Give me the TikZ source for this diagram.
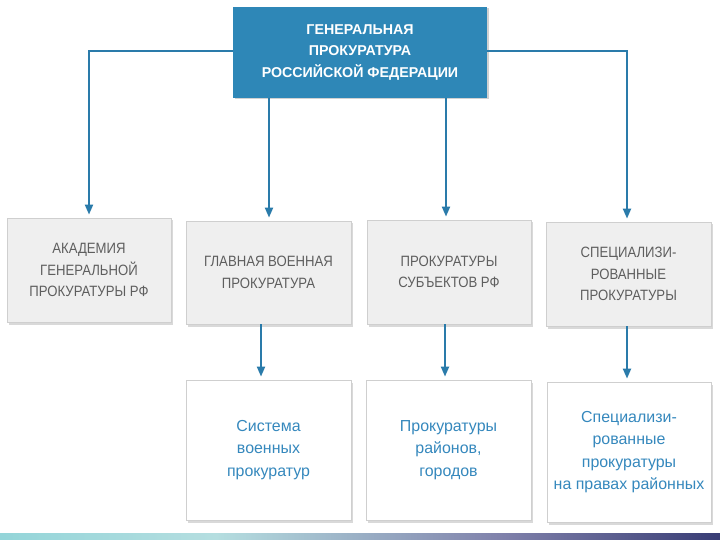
\documentclass[tikz,border=0pt]{standalone}
\usepackage{fontspec}
\setmainfont{Liberation Sans}
\newfontfamily\condfont[FakeStretch=0.88]{Liberation Sans}
\usetikzlibrary{arrows.meta,shadows}
\definecolor{topblue}{HTML}{2E87B7}
\definecolor{lineblue}{HTML}{2A7BAA}
\definecolor{greyfill}{HTML}{EFEFEF}
\definecolor{greyline}{HTML}{CFCFCF}
\definecolor{greytext}{HTML}{5E5E5E}
\definecolor{bluetext}{HTML}{3588BD}
\definecolor{barA}{HTML}{5CC6CD}
\definecolor{barB}{HTML}{B5DEE0}
\definecolor{barC}{HTML}{7F80AA}
\definecolor{barD}{HTML}{2A2F6A}
\definecolor{barE}{HTML}{1E2358}
\pgfdeclarehorizontalshading{barshade}{100bp}{color(0bp)=(barA); color(40bp)=(barB); color(60bp)=(barC); color(78bp)=(barD); color(100bp)=(barE)}
\tikzset{
  topbox/.style={rectangle, fill=topblue, draw=none, text=white, align=center,
    font=\fontsize{14.3}{21.5}\selectfont\bfseries, inner sep=0pt,
    drop shadow={shadow xshift=1.5bp, shadow yshift=-1.5bp, fill=black, opacity=0.18}},
  greybox/.style={rectangle, fill=greyfill, draw=greyline, line width=0.8bp, text=greytext, align=center,
    font=\condfont\fontsize{15}{21.5}\selectfont, inner sep=0pt,
    drop shadow={shadow xshift=2bp, shadow yshift=-2.5bp, fill=black, opacity=0.15}},
  whitebox/.style={rectangle, fill=white, draw=greyline, line width=0.8bp, text=bluetext, align=center,
    font=\fontsize{16}{22.5}\selectfont, inner sep=0pt,
    drop shadow={shadow xshift=2bp, shadow yshift=-2.5bp, fill=black, opacity=0.15}},
  conn/.style={draw=lineblue, line width=2bp, -{Triangle[width=8bp,length=10bp]}, shorten >=3bp}
}
\begin{document}
\begin{tikzpicture}[x=1bp,y=-1bp]
\useasboundingbox (0,0) rectangle (720,540);
\fill[white] (0,0) rectangle (720,540);
% top
\node[topbox, minimum width=254bp, minimum height=91bp] (top) at (360,52.5)
  {ГЕНЕРАЛЬНАЯ\\ПРОКУРАТУРА\\РОССИЙСКОЙ ФЕДЕРАЦИИ};
% row 1
\node[greybox, minimum width=164bp, minimum height=104bp] (b1) at (89,270)
  {АКАДЕМИЯ\\ГЕНЕРАЛЬНОЙ\\ПРОКУРАТУРЫ РФ};
\node[greybox, minimum width=165bp, minimum height=103bp] (b2) at (268.5,272.5)
  {ГЛАВНАЯ ВОЕННАЯ\\ПРОКУРАТУРА};
\node[greybox, minimum width=164bp, minimum height=104bp] (b3) at (449,272)
  {ПРОКУРАТУРЫ\\СУБЪЕКТОВ РФ};
\node[greybox, minimum width=165bp, minimum height=104bp] (b4) at (628.5,274)
  {СПЕЦИАЛИЗИ-\\РОВАННЫЕ\\ПРОКУРАТУРЫ};
% row 2
\node[whitebox, minimum width=165bp, minimum height=140bp] (b5) at (268.5,450)
  {Система\\военных\\прокуратур};
\node[whitebox, minimum width=165bp, minimum height=140bp] (b6) at (448.5,450)
  {Прокуратуры\\районов,\\городов};
\node[whitebox, minimum width=164bp, minimum height=140bp] (b7) at (629,452)
  {Специализи-\\рованные\\прокуратуры\\на правах районных};
% connectors from top
\draw[conn] ([yshift=1.5bp]top.west) -| (b1.north);
\draw[conn] ([yshift=1.5bp]top.east) -| ([xshift=-1.5bp]b4.north);
\draw[conn] ([xshift=0.5bp]top.south -| b2.north) -- ([xshift=0.5bp]b2.north);
\draw[conn] ([xshift=-3bp]top.south -| b3.north) -- ([xshift=-3bp]b3.north);
% connectors row1 -> row2
\draw[conn] ([xshift=-7.5bp]b2.south) -- ([xshift=-7.5bp]b2.south |- b5.north);
\draw[conn] ([xshift=-4bp]b3.south) -- ([xshift=-4bp]b3.south |- b6.north);
\draw[conn] ([xshift=-1.5bp]b4.south) -- ([xshift=-1.5bp]b4.south |- b7.north);
% bottom bar
\shade[shading=barshade] (0,533) rectangle (720,540);
\end{tikzpicture}
\end{document}
